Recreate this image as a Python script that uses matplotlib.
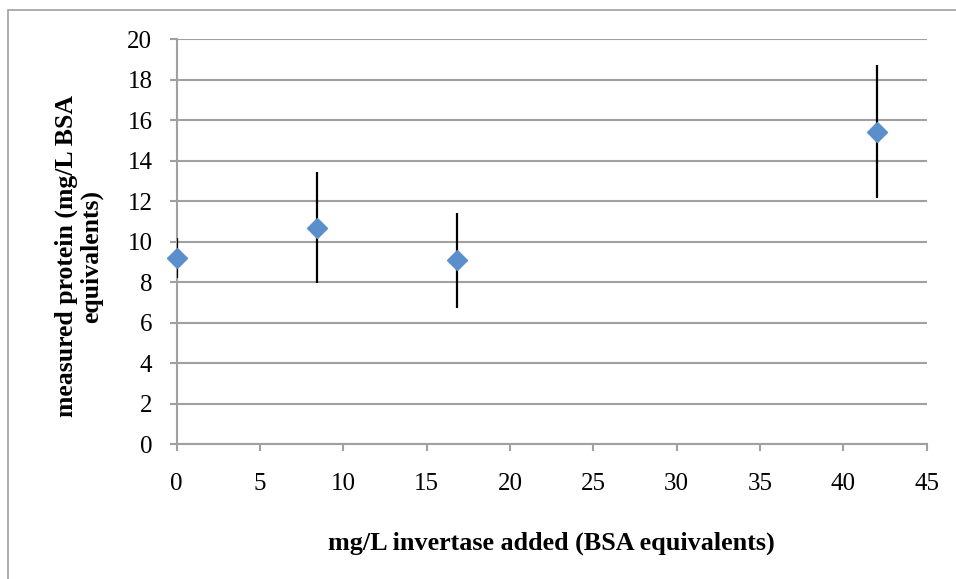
import matplotlib.pyplot as plt
from matplotlib.patches import Rectangle

# invertase added vs measured protein
x = [0, 8.4, 16.8, 42]
y = [9.2, 10.7, 9.1, 15.45]
yerr = [0.97, 2.74, 2.35, 3.3]
xticks = [0, 5, 10, 15, 20, 25, 30, 35, 40, 45]
yticks = [0, 2, 4, 6, 8, 10, 12, 14, 16, 18, 20]

plt.rcParams['font.family'] = 'Liberation Serif'
grey = '#A0A0A0'

fig = plt.figure(figsize=(9.56, 5.79), dpi=100)
ax = fig.add_axes([0.1848, 0.2326, 0.7846, 0.6992])

# outer chart frame (runs past the right and bottom edges)
fig.patches.append(Rectangle((8 / 956, -0.05), 1.2, 1 - 10 / 579 + 0.05,
                             transform=fig.transFigure, fill=False,
                             edgecolor=grey, lw=1.2))

ax.errorbar(x, y, yerr=yerr, fmt='none', ecolor='black', elinewidth=1.6,
            capsize=0, zorder=3)
ax.plot(x, y, 'D', color='#5B8FCB', markersize=10, zorder=4, clip_on=False)

ax.set_xlim(0, 45)
ax.set_ylim(0, 20)
ax.set_xticks(xticks)
ax.set_yticks(yticks)
ax.yaxis.grid(True, color=grey, lw=1.5)
ax.set_axisbelow(True)

for s in ['top', 'right']:
    ax.spines[s].set_visible(False)
for s in ['left', 'bottom']:
    ax.spines[s].set_color(grey)
    ax.spines[s].set_linewidth(1.5)

ax.tick_params(axis='both', colors=grey, length=5, width=1.5, labelsize=18,
               labelcolor='black')
ax.tick_params(axis='x', pad=15.5)
ax.tick_params(axis='y', pad=12.5)

ax.set_xlabel('mg/L invertase added (BSA equivalents)', fontsize=18.8,
              fontweight='bold')
ax.xaxis.set_label_coords(0.5, -0.2438)
ax.xaxis.label.set_va('center')

ax.set_ylabel('measured protein (mg/L BSA\nequivalents)', fontsize=18.5,
              fontweight='bold', linespacing=1.05)
ax.yaxis.set_label_coords(-0.1303, 0.465)
ax.yaxis.label.set_va('center')
ax.yaxis.label.set_ha('center')

fig.savefig('out.png', dpi=100)
